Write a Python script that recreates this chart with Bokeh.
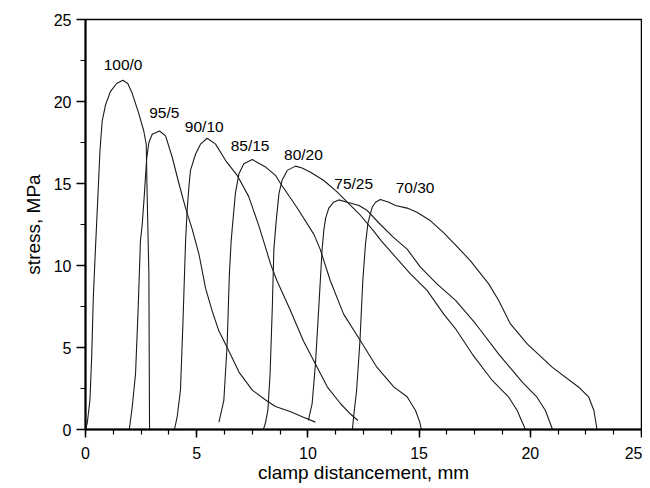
from bokeh.plotting import figure
from bokeh.models import Range1d, SingleIntervalTicker, ColumnDataSource
from bokeh.core.properties import value
from bokeh.embed import file_html
from bokeh.resources import INLINE

# --- data (clamp distancement mm, stress MPa) ---
c100_x = [0.0, 0.08, 0.20, 0.28, 0.35, 0.45, 0.55, 0.65, 0.75, 0.90, 1.12, 1.40, 1.68, 1.90, 2.10, 2.40, 2.62, 2.73, 2.77, 2.85, 2.88]
c100_y = [0.0, 0.40, 1.80, 4.50, 8.00, 11.1, 14.0, 17.0, 18.8, 19.8, 20.6, 21.1, 21.3, 21.1, 20.5, 19.25, 18.2, 17.4, 14.4, 9.5, 0.0]

c95_x = [1.97, 2.10, 2.25, 2.37, 2.47, 2.55, 2.65, 2.75, 2.85, 3.00, 3.33, 3.60, 3.90, 4.20, 4.50, 4.80, 5.10, 5.40, 5.70, 6.00, 6.37, 6.90, 7.50, 8.10, 8.54, 9.20, 9.80, 10.34]
c95_y = [0.0, 1.36, 3.40, 7.46, 11.5, 12.5, 14.4, 16.5, 17.5, 18.0, 18.2, 17.9, 16.6, 15.0, 13.5, 12.2, 10.7, 8.6, 7.2, 6.0, 5.0, 3.5, 2.4, 1.8, 1.4, 1.1, 0.75, 0.45]

c90_x = [4.00, 4.12, 4.27, 4.38, 4.50, 4.57, 4.65, 4.72, 4.95, 5.17, 5.47, 5.85, 6.30, 6.82, 7.34, 7.80, 8.05, 8.32, 8.60, 9.20, 9.80, 10.34, 10.87, 11.47, 11.90, 12.25]
c90_y = [0.0, 0.75, 2.40, 6.45, 11.5, 13.35, 14.8, 15.8, 16.8, 17.4, 17.76, 17.4, 16.4, 15.5, 14.2, 12.4, 11.3, 10.1, 9.1, 7.3, 5.4, 4.0, 2.6, 1.57, 0.96, 0.55]

c85_x = [6.00, 6.22, 6.37, 6.47, 6.55, 6.60, 6.74, 6.90, 7.12, 7.50, 8.10, 8.54, 8.77, 9.50, 10.27, 10.55, 11.00, 11.60, 12.37, 13.10, 13.86, 14.46, 14.84, 15.03, 15.10]
c85_y = [0.45, 1.77, 5.2, 9.5, 11.5, 12.3, 14.4, 15.6, 16.2, 16.46, 16.0, 15.5, 15.0, 13.55, 11.9, 11.0, 9.1, 7.05, 5.4, 3.8, 2.6, 2.0, 1.16, 0.45, 0.0]

c80_x = [8.00, 8.10, 8.20, 8.30, 8.40, 8.47, 8.58, 8.70, 8.84, 9.07, 9.44, 9.74, 10.10, 10.70, 11.30, 11.77, 12.37, 12.96, 13.30, 14.60, 15.36, 16.10, 16.64, 17.39, 18.29, 19.03, 19.41, 19.78]
c80_y = [0.0, 0.45, 1.16, 3.40, 7.46, 11.0, 12.8, 14.4, 15.2, 15.8, 16.06, 15.95, 15.7, 15.2, 14.5, 13.86, 13.05, 12.1, 11.5, 9.5, 8.48, 7.05, 6.14, 4.6, 2.99, 1.97, 1.16, 0.0]

c75_x = [10.02, 10.19, 10.34, 10.49, 10.64, 10.72, 10.80, 10.94, 11.16, 11.39, 11.77, 12.30, 12.67, 13.26, 13.86, 14.46, 15.06, 15.80, 16.64, 17.54, 18.58, 19.63, 20.30, 20.68, 21.00]
c75_y = [0.55, 1.57, 4.00, 7.46, 11.0, 12.2, 12.9, 13.5, 13.86, 14.0, 13.86, 13.66, 13.35, 12.5, 11.7, 11.0, 9.9, 8.88, 7.87, 6.45, 4.6, 2.9, 1.97, 1.16, 0.0]

c70_x = [12.00, 12.07, 12.19, 12.34, 12.47, 12.59, 12.70, 12.89, 13.04, 13.26, 13.64, 13.94, 14.46, 14.90, 15.50, 16.10, 16.60, 17.30, 18.13, 18.58, 19.10, 19.86, 20.98, 22.18, 22.63, 22.86, 23.00]
c70_y = [0.0, 0.95, 2.38, 5.40, 9.10, 11.3, 12.6, 13.55, 13.86, 14.02, 13.86, 13.66, 13.5, 13.25, 12.74, 12.0, 11.3, 10.3, 8.88, 7.87, 6.45, 5.22, 3.8, 2.58, 1.97, 1.16, 0.0]

series_x = [c100_x, c95_x, c90_x, c85_x, c80_x, c75_x, c70_x]
series_y = [c100_y, c95_y, c90_y, c85_y, c80_y, c75_y, c70_y]

labels = ["100/0", "95/5", "90/10", "85/15", "80/20", "75/25", "70/30"]
label_x = [1.69, 3.54, 5.34, 7.40, 9.80, 12.06, 14.82]
label_y = [22.26, 19.30, 18.46, 17.29, 16.78, 15.00, 14.74]

FONT = "Liberation Sans"

p = figure(width=642, height=488, x_range=Range1d(0, 25), y_range=Range1d(0, 25),
           output_backend="svg", toolbar_location=None,
           min_border_left=85, min_border_right=1, min_border_top=19, min_border_bottom=59)
p.background_fill_color = "white"
p.border_fill_color = "white"
p.outline_line_color = "black"
p.outline_line_width = 1.5
p.xgrid.visible = False
p.ygrid.visible = False

for xs, ys in zip(series_x, series_y):
    p.line(xs, ys, line_color="#1a1a1a", line_width=1.1)

src = ColumnDataSource(dict(x=label_x, y=label_y, t=labels))
p.text(x="x", y="y", text="t", source=src, text_align="center", text_baseline="middle",
       text_font=value(FONT), text_font_size="15.5px", text_color="black")

p.xaxis.ticker = SingleIntervalTicker(interval=5, num_minor_ticks=4)
p.yaxis.ticker = SingleIntervalTicker(interval=5, num_minor_ticks=2)
for ax in (p.xaxis, p.yaxis):
    ax.axis_line_width = 2
    ax.axis_line_color = "black"
    ax.major_tick_in = 0
    ax.minor_tick_in = 0
    ax.major_tick_line_width = 1.5
    ax.minor_tick_line_width = 1.2
    ax.major_tick_line_color = "black"
    ax.minor_tick_line_color = "black"
    ax.major_label_text_font = FONT
    ax.major_label_text_font_size = "16px"
    ax.major_label_text_color = "black"
    ax.axis_label_text_font = FONT
    ax.axis_label_text_font_style = "normal"
    ax.axis_label_text_font_size = "19px"
    ax.axis_label_text_color = "black"
p.xaxis.major_tick_out = 8
p.xaxis.minor_tick_out = 5
p.xaxis.major_label_standoff = 9
p.xaxis.axis_label = "clamp distancement, mm"
p.xaxis.axis_label_standoff = 0
p.yaxis.major_tick_out = 9
p.yaxis.minor_tick_out = 5
p.yaxis.major_label_standoff = 5
p.yaxis.axis_label = "stress, MPa"
p.yaxis.axis_label_standoff = 7

open("out.html", "w").write(file_html(p, INLINE))
